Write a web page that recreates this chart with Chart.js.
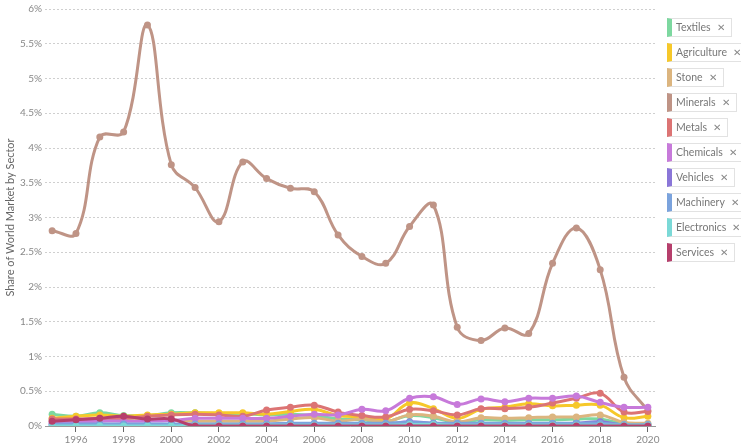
<!DOCTYPE html>
<html>
<head>
<meta charset="utf-8">
<script src="https://cdn.jsdelivr.net/npm/chart.js@4"></script>
<style>
  body { margin: 0; background: #fff; }
  #wrap { position: relative; width: 741px; height: 448px; }
  #legend { position: absolute; left: 667px; top: 18px; display: flex; flex-direction: column; align-items: flex-start; font-family: Lato, sans-serif; font-size: 10.5px; color: #777; }
  .item { box-sizing: border-box; height: 19px; margin-bottom: 6px; border: 1px solid #e2e2e2; border-left-width: 5px; background: #fff; padding: 0 6px 0 4px; line-height: 17px; white-space: nowrap; }
  .item .x { margin-left: 6px; color: #888; font-size: 10px; }
</style>
</head>
<body>
<div id="wrap">
  <canvas id="chart" width="741" height="448"></canvas>
  <div id="legend"></div>
</div>
<script>
// years and share of world market (%) per sector
const years = [1995, 1996, 1997, 1998, 1999, 2000, 2001, 2002, 2003, 2004, 2005, 2006, 2007,
  2008, 2009, 2010, 2011, 2012, 2013, 2014, 2015, 2016, 2017, 2018, 2019, 2020]

const textiles    = [0.17, 0.14, 0.19, 0.15, 0.15, 0.19, 0.19, 0.18, 0.18, 0.16, 0.17, 0.15, 0.10, 0.09, 0.06, 0.15, 0.12, 0.05, 0.09, 0.08, 0.09, 0.09, 0.10, 0.10, 0.03, 0.02]
const agriculture = [0.11, 0.14, 0.16, 0.14, 0.16, 0.17, 0.19, 0.19, 0.19, 0.17, 0.21, 0.24, 0.15, 0.13, 0.10, 0.33, 0.25, 0.11, 0.24, 0.27, 0.32, 0.29, 0.30, 0.30, 0.12, 0.14]
const stone       = [0.08, 0.08, 0.08, 0.09, 0.09, 0.08, 0.07, 0.07, 0.07, 0.07, 0.10, 0.12, 0.07, 0.10, 0.06, 0.16, 0.14, 0.06, 0.12, 0.11, 0.12, 0.13, 0.13, 0.16, 0.05, 0.04]
const minerals    = [2.81, 2.77, 4.16, 4.23, 5.77, 3.76, 3.43, 2.94, 3.80, 3.56, 3.42, 3.37, 2.75, 2.44, 2.34, 2.87, 3.18, 1.42, 1.23, 1.41, 1.33, 2.34, 2.85, 2.25, 0.70, 0.22]
const metals      = [0.10, 0.10, 0.11, 0.11, 0.14, 0.16, 0.17, 0.16, 0.14, 0.23, 0.27, 0.30, 0.20, 0.15, 0.13, 0.24, 0.22, 0.16, 0.25, 0.25, 0.27, 0.33, 0.40, 0.47, 0.20, 0.21]
const chemicals   = [0.05, 0.06, 0.07, 0.07, 0.07, 0.08, 0.11, 0.11, 0.11, 0.11, 0.14, 0.17, 0.16, 0.24, 0.22, 0.40, 0.42, 0.31, 0.39, 0.35, 0.40, 0.40, 0.43, 0.34, 0.27, 0.27]
const vehicles    = [0.02, 0.02, 0.02, 0.02, 0.02, 0.02, 0.02, 0.02, 0.02, 0.02, 0.03, 0.03, 0.03, 0.03, 0.03, 0.06, 0.04, 0.03, 0.03, 0.03, 0.03, 0.03, 0.04, 0.06, 0.01, 0.01]
const machinery   = [0.03, 0.03, 0.03, 0.03, 0.03, 0.03, 0.03, 0.03, 0.03, 0.03, 0.04, 0.04, 0.04, 0.04, 0.04, 0.05, 0.04, 0.04, 0.04, 0.04, 0.04, 0.04, 0.04, 0.04, 0.02, 0.02]
const electronics = [0.00, 0.00, 0.00, 0.00, 0.00, 0.00, 0.01, 0.01, 0.01, 0.01, 0.01, 0.01, 0.01, 0.01, 0.01, 0.02, 0.02, 0.01, 0.01, 0.01, 0.01, 0.01, 0.01, 0.01, 0.01, 0.01]
const services    = [0.07, 0.09, 0.11, 0.14, 0.10, 0.10, 0, 0, 0, 0, 0, 0, 0, 0, 0, 0, 0, 0, 0, 0, 0, 0, 0, 0, 0, 0]

const sectors = ['Textiles', 'Agriculture', 'Stone', 'Minerals', 'Metals', 'Chemicals', 'Vehicles', 'Machinery', 'Electronics', 'Services']
const values = [textiles, agriculture, stone, minerals, metals, chemicals, vehicles, machinery, electronics, services]
const colors = ['#7dd8a0', '#f6c82a', '#dcb57f', '#bf9486', '#dc7474', '#c77ada', '#8a76d8', '#7ba3dd', '#7bd9d7', '#b63f6c']

const datasets = sectors.map((name, i) => ({
    label: name,
    data: values[i].map((v, j) => ({ x: years[j], y: v })),
    borderColor: colors[i],
    backgroundColor: colors[i],
    pointBackgroundColor: colors[i],
    pointBorderWidth: 0,
    pointRadius: 3.5,
    borderWidth: 3,
    tension: 0.4,
    fill: false,
    order: sectors.length - i,
}))

// html legend
const legend = document.getElementById('legend')
sectors.forEach((name, i) => {
    const d = document.createElement('div')
    d.className = 'item'
    d.style.borderLeftColor = colors[i]
    d.innerHTML = name + '<span class="x">\u2715</span>'
    legend.appendChild(d)
})

const ctx = document.getElementById('chart').getContext('2d')
Chart.defaults.font.family = 'Lato, sans-serif'

const chart = new Chart(ctx, {
    type: 'line',
    data: { datasets },
    options: {
        responsive: false,
        animation: false,
        layout: { padding: { left: 0, right: 86, top: 9, bottom: 0 } },
        plugins: { legend: { display: false }, tooltip: { enabled: false } },
        scales: {
            x: {
                type: 'linear',
                min: 1994.7,
                max: 2020.3,
                ticks: { stepSize: 2, includeBounds: false, color: '#888', font: { size: 10 }, padding: 2, maxRotation: 0,
                    callback: v => String(v) },
                grid: { drawOnChartArea: false, drawTicks: true, tickLength: 6, color: '#666' },
                border: { display: true, color: '#999', width: 1 },
            },
            y: {
                min: 0,
                max: 6,
                ticks: { stepSize: 0.5, color: '#888', font: { size: 10 }, padding: 3, callback: v => v + '%' },
                grid: { color: '#cfcfcf', drawTicks: false },
                border: { display: false, dash: [2, 2] },
                title: { display: true, text: 'Share of World Market by Sector', color: '#666', font: { size: 11 }, padding: { top: 4, bottom: 0 } },
                afterFit: s => { s.width = 45 },
            },
        },
    },
})
</script>
</body>
</html>
